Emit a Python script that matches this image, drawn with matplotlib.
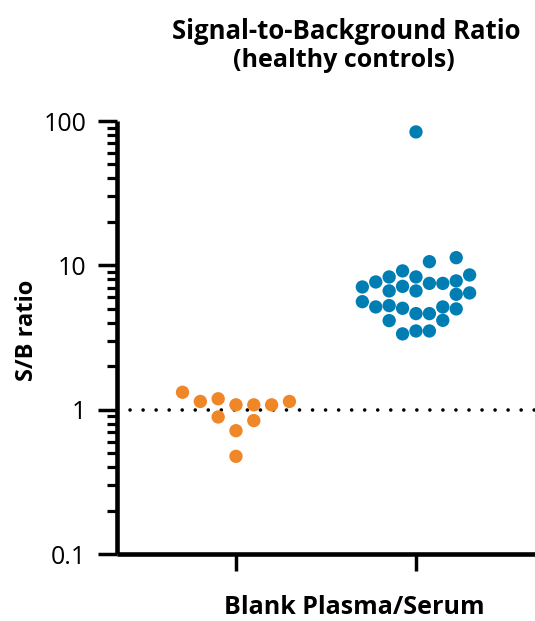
import matplotlib
matplotlib.use("Agg")
import matplotlib.pyplot as plt
from matplotlib.ticker import LogLocator, FixedLocator, NullFormatter, FixedFormatter
import numpy as np

# ---- data ----
groups = ["Blank", "Plasma/Serum"]
blank_values = [1.32, 1.14, 1.19, 0.89, 1.08, 0.715, 0.475, 0.84, 1.08, 1.08, 1.14]
blank_cols   = [-3, -2, -1, -1, 0, 0, 0, 1, 1, 2, 3]
serum_values = [84.0, 10.6, 11.3, 9.15, 8.31, 7.67, 7.08, 8.31, 7.50, 7.50, 7.80, 8.58,
                6.65, 7.15, 6.65, 6.30, 6.44, 5.60, 5.15, 5.26, 5.04, 4.63, 4.63, 5.15,
                4.99, 4.14, 4.16, 3.35, 3.51, 3.51]
serum_cols   = [0, 1, 3, -1, -2, -3, -4, 0, 1, 2, 3, 4,
                -2, -1, 0, 3, 4, -4, -3, -2, -1, 0, 1, 2,
                3, -2, 2, -1, 0, 1]
y_ticks = [0.1, 1, 10, 100]
y_tick_labels = ["0.1", "1", "10", "100"]
threshold = 1.0

orange = "#EF8628"
blue = "#007DB3"

plt.rcParams['font.family'] = ['Open Sans', 'DejaVu Sans']

W, H = 535, 621
fig = plt.figure(figsize=(W/100, H/100), dpi=100)
ax = fig.add_axes([117/W, (H-554)/H, (540-117)/W, (554-121)/H])
ax.set_yscale('log')
ax.set_ylim(0.1, 100)
ax.set_xlim(-0.661, 1.689)

ax.axhline(threshold, color='black', lw=2.6, linestyle=(0, (0.01, 3.6)),
           dash_capstyle='round', zorder=1)

ax.scatter(0 + np.array(blank_cols) * 0.099, blank_values, s=92, color=orange,
           edgecolors='none', zorder=3, clip_on=False)
ax.scatter(1 + np.array(serum_cols) * 0.0745, serum_values, s=92, color=blue,
           edgecolors='none', zorder=3, clip_on=False)

for side in ['top', 'right']:
    ax.spines[side].set_visible(False)
for side in ['left', 'bottom']:
    ax.spines[side].set_linewidth(3.3)
    ax.spines[side].set_capstyle('butt')

ax.yaxis.set_major_locator(FixedLocator(y_ticks))
ax.yaxis.set_major_formatter(FixedFormatter(y_tick_labels))
ax.yaxis.set_minor_locator(LogLocator(base=10, subs=np.arange(2, 10)))
ax.yaxis.set_minor_formatter(NullFormatter())
ax.tick_params(axis='y', which='major', length=14, width=2.5, labelsize=18, pad=8)
ax.tick_params(axis='y', which='minor', length=7, width=2.3)

ax.set_xticks([0, 1])
ax.set_xticklabels([])
ax.tick_params(axis='x', which='major', length=12, width=2.5)

fig.text(354/W, 1 - 614/H, "Blank Plasma/Serum", ha='center', va='baseline',
         fontsize=18, fontweight='bold')
fig.text(346/W, 1 - 39/H, "Signal-to-Background Ratio", ha='center', va='baseline',
         fontsize=18.5, fontweight='bold')
fig.text(344/W, 1 - 67/H, "(healthy controls)", ha='center', va='baseline',
         fontsize=18, fontweight='bold')
fig.text(27/W, 1 - 330/H, "S/B ratio", ha='center', va='center', rotation=90,
         fontsize=17, fontweight='bold')

fig.savefig("out.png", dpi=100)
